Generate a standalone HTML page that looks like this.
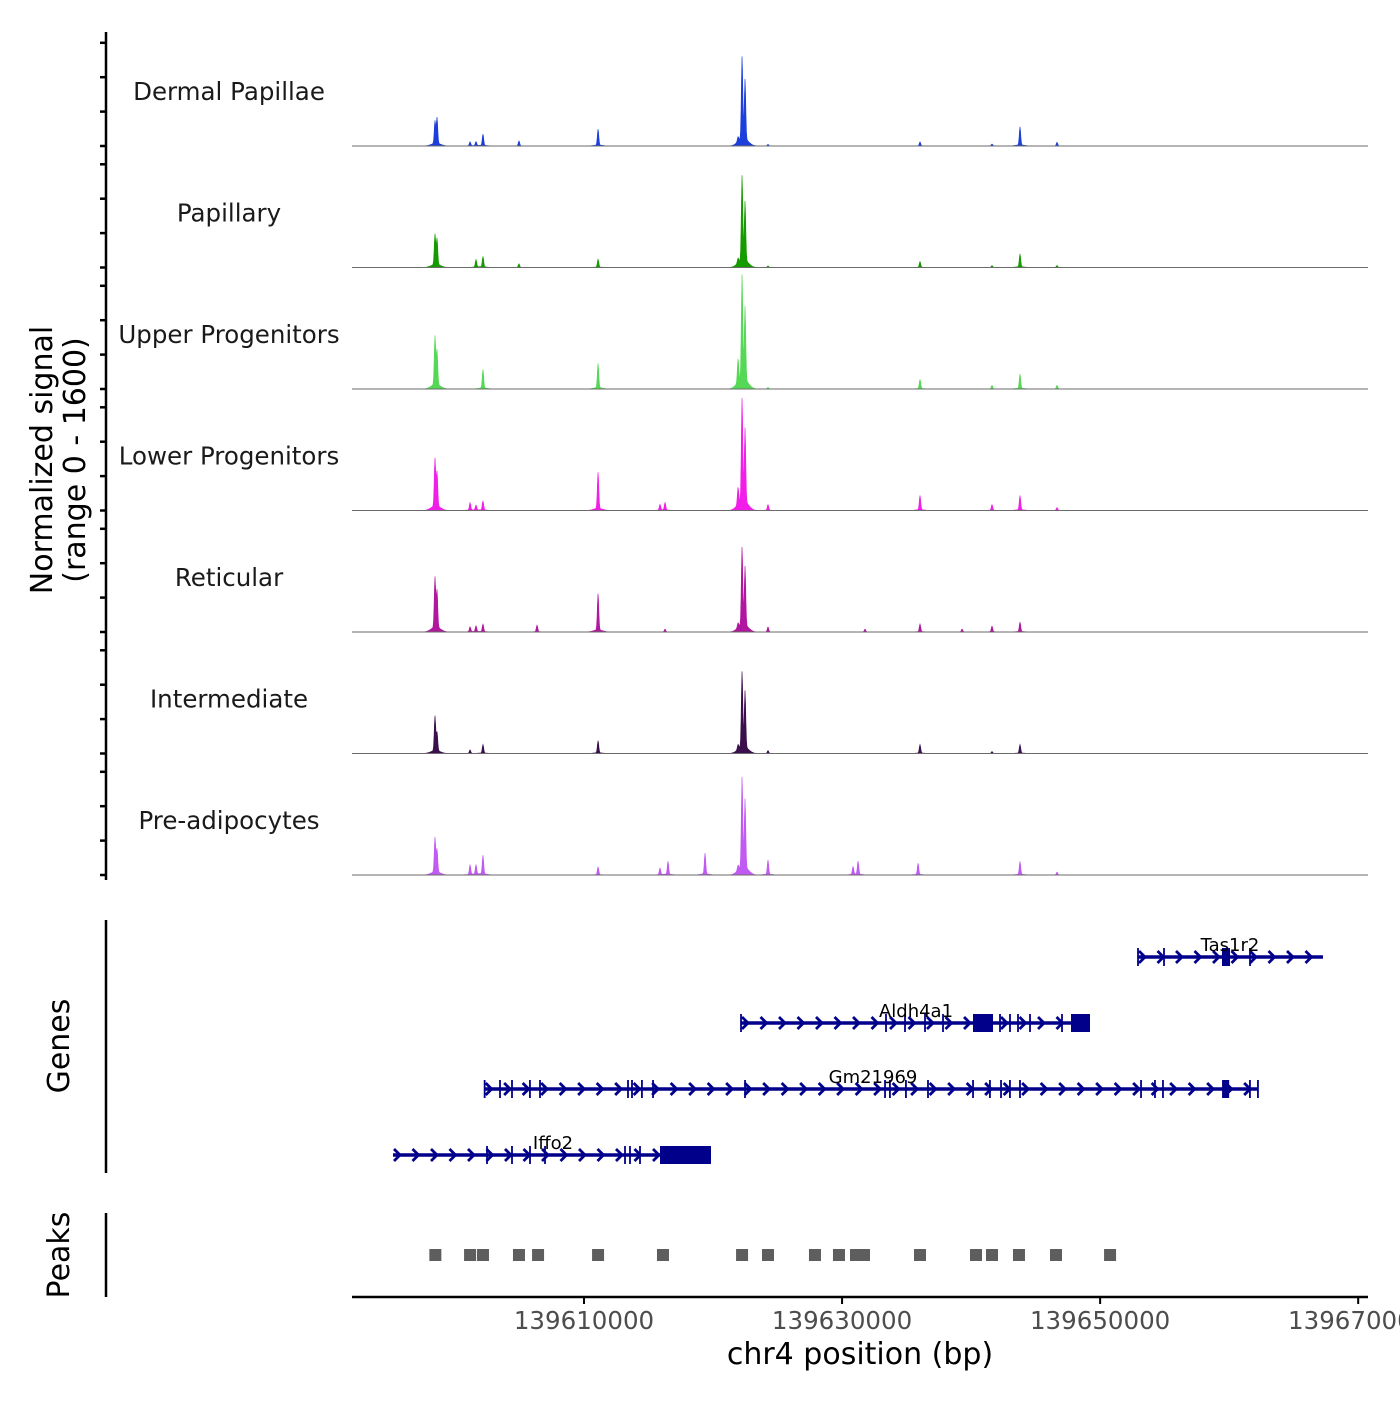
<!DOCTYPE html>
<html><head><meta charset="utf-8"><style>
html,body{margin:0;padding:0;background:#fff;}
svg text{font-family:"DejaVu Sans","Liberation Sans",sans-serif;}
</style></head><body>
<svg id="chart" width="1400" height="1400" xmlns="http://www.w3.org/2000/svg">
<g id="tracks"></g>
<g id="genes"></g>
<g id="peaks"></g>
<g id="axes"></g>
</svg>
<script>
const trackNames = ["Dermal Papillae","Papillary","Upper Progenitors","Lower Progenitors","Reticular","Intermediate","Pre-adipocytes"];
const trackColors = ["#1c3fdc","#159a00","#55d855","#f01ee8","#b0169e","#3a0f4c","#c05af2"];
const peakPos = [139598450,139598610,139601170,139601630,139602170,139604960,139606360,139611090,139615890,139616280,139616510,139619380,139621940,139622250,139622480,139624260,139630850,139631240,139631780,139635890,139636040,139639300,139641620,139643790,139646660];
// heights (signal units, 0-1600) per track, aligned with peakPos
const sigDP  = [260,300,45,45,130,55,0,185,0,0,0,0,55,950,690,18,0,0,0,0,45,0,22,210,40];
const sigPap = [350,300,0,85,120,40,0,90,0,0,0,0,55,980,680,18,0,0,0,0,65,0,22,150,22];
const sigUp  = [560,400,0,0,215,0,0,280,0,0,0,0,270,1210,850,18,0,0,0,0,105,0,40,165,40];
const sigLow = [550,400,85,55,105,0,0,420,65,85,0,0,195,1190,850,65,0,0,0,0,165,0,65,165,32];
const sigRet = [580,430,55,65,85,0,75,420,0,32,0,0,55,900,680,55,0,0,32,0,88,32,65,108,0];
const sigInt = [400,215,40,0,98,0,0,140,0,0,0,0,55,870,650,32,0,0,0,0,98,0,22,98,0];
const sigPre = [400,265,108,108,215,0,0,88,75,0,150,240,55,1040,790,165,88,150,0,130,0,0,0,150,32];
const trackSignals = [sigDP,sigPap,sigUp,sigLow,sigRet,sigInt,sigPre];

const geneNames = ["Tas1r2","Aldh4a1","Gm21969","Iffo2"];
const geneStart = [139652935,139622168,139602300,139595197];
const geneEnd   = [139667272,139649215,139662230,139619842];
const geneExons = [
 [139652935,139654950,139661615],
 [139622168,139633405,139634878,139636428,139637823,139642240,139643015,139643635,139644565,139647045],
 [139602300,139603490,139604420,139605810,139606590,139613410,139613720,139614490,139615350,139622480,139633330,139633710,139634950,139636660,139640150,139641460,139642320,139643010,139643790,139653170,139654250,139654870,139661610,139662230],
 [139602483,139604420,139605815,139606978,139613178,139613565,139614340]
];
const geneBlocksStart = [[139659445],[139640148,139647743],[139659450],[139615890]];
const geneBlocksEnd   = [[139660065],[139641698,139649215],[139660000],[139619842]];

const peakStarts = [139598480,139601170,139602170,139604960,139606440,139611090,139616120,139622250,139624260,139627900,139629760,139631080,139631700,139636040,139640380,139641620,139643710,139646580,139650770];

const xTicks = [139610000,139630000,139650000,139670000];
const yTickVals = [0,400,800,1200];

const NS="http://www.w3.org/2000/svg";
function mk(tag,attrs,parent){const e=document.createElementNS(NS,tag);for(const k in attrs)e.setAttribute(k,attrs[k]);parent.appendChild(e);return e;}
const X0=352,X1=1368,BP0=139592020,BPPX=77.5;
function xs(bp){return X0+(bp-BP0)/BPPX;}
const trackH=121.5, base0=146;
function ys(v){return v*138/1600;}
const tracksG=document.getElementById('tracks');
trackSignals.forEach((sig,t)=>{
  const base=base0+t*trackH;
  const g=mk('g',{},tracksG);
  
  
  let pts=[[X0,base]];
  for(let px=X0;px<=X1;px+=0.5){
    const bp=BP0+(px-X0)*BPPX;
    let v=0;
    for(let i=0;i<peakPos.length;i++){
      const d=(bp-peakPos[i])/55;
      v+=sig[i]*Math.exp(-d*d/2);
      const d2=(bp-peakPos[i])/350;
      v+=sig[i]*0.06*Math.exp(-d2*d2/2);
    }
    pts.push([px,base-ys(v)]);
  }
  pts.push([X1,base]);
  const area=mk('path',{d:'M'+pts.map(p=>p[0].toFixed(1)+','+p[1].toFixed(2)).join('L')+'Z',fill:trackColors[t],stroke:trackColors[t],'stroke-width':0.6},g);
  
  
  const bl=mk('line',{x1:X0,x2:X1,y1:base,y2:base,stroke:'#6b6b6b','stroke-width':1},g);
  
  
  const lab=mk('text',{x:229,y:base-46,'text-anchor':'middle','font-size':24.5,fill:'#1a1a1a'},g);
  lab.textContent=trackNames[t];
  
  
});

// genes
const genesG=document.getElementById('genes');
const geneY=[957,1023,1089,1155];
const NAVY='#00008b';
geneNames.forEach((n,i)=>{
  const g=mk('g',{},genesG);
  
  
  const y=geneY[i],a=xs(geneStart[i]),b=xs(geneEnd[i]);
  mk('line',{x1:a,x2:b,y1:y,y2:y,stroke:NAVY,'stroke-width':3.5},g);
  for(let x=a+4;x<b;x+=18.5){mk('path',{d:`M${x-3},${y-6}L${x+3},${y}L${x-3},${y+6}`,fill:'none',stroke:NAVY,'stroke-width':2.8},g);}
  geneExons[i].forEach(e=>{mk('line',{x1:xs(e),x2:xs(e),y1:y-9,y2:y+9,stroke:NAVY,'stroke-width':1.8},g);});
  geneBlocksStart[i].forEach((s,k)=>{const x=xs(s),w=xs(geneBlocksEnd[i][k])-x;mk('rect',{x:x,y:y-9,width:w,height:18,fill:NAVY},g);});
  const lab=mk('text',{x:(a+b)/2,y:y-6,'text-anchor':'middle','font-size':18,fill:'#000'},g);
  lab.textContent=n;
  
  
});
const labX=[1230,916,873,553];
genesG.querySelectorAll('text').forEach((t,i)=>t.setAttribute('x',labX[i]));

// peaks
const peaksG=document.getElementById('peaks');
peakStarts.forEach(p=>{
  const r=mk('rect',{x:xs(p)-6,y:1249,width:12,height:12,fill:'#5e5e5e'},peaksG);
  
  
});

// axes
const ax=document.getElementById('axes');
function L(x1,y1,x2,y2,w,name){const l=mk('line',{x1,y1,x2,y2,stroke:'#000','stroke-width':w},ax);return l;}
L(106,32,106,880,2.5,'y-axis-line');
L(106,920,106,1173,2.5,'genes-axis-line');
L(106,1213,106,1297,2.5,'peaks-axis-line');
for(let t=0;t<7;t++){const base=base0+t*trackH;yTickVals.forEach(v=>{const y=base-v*34.4/400;L(100,y,106,y,2.5,'y-tick');});}
L(352,1297,1368,1297,2.5,'x-axis-line');
xTicks.forEach(v=>{const x=xs(v);L(x,1297,x,1304,2,'x-tick');
  const t=mk('text',{x:x,y:1329,'text-anchor':'middle','font-size':24.5,fill:'#4d4d4d'},ax);t.textContent=v;
  
  });
function T(txt,x,y,size,rot,name){const t=mk('text',{x:x,y:y,'text-anchor':'middle','font-size':size,fill:'#000'},ax);if(rot)t.setAttribute('transform',`rotate(-90 ${x} ${y})`);t.textContent=txt;}
T('chr4 position (bp)',860,1364,30,false,'x-axis-title');
T('Normalized signal',52,460,30,true,'y-axis-title');
T('(range 0 - 1600)',85,460,30,true,'y-axis-subtitle');
T('Genes',69,1046,30,true,'genes-axis-title');
T('Peaks',69,1255,30,true,'peaks-axis-title');
</script>
</body></html>
